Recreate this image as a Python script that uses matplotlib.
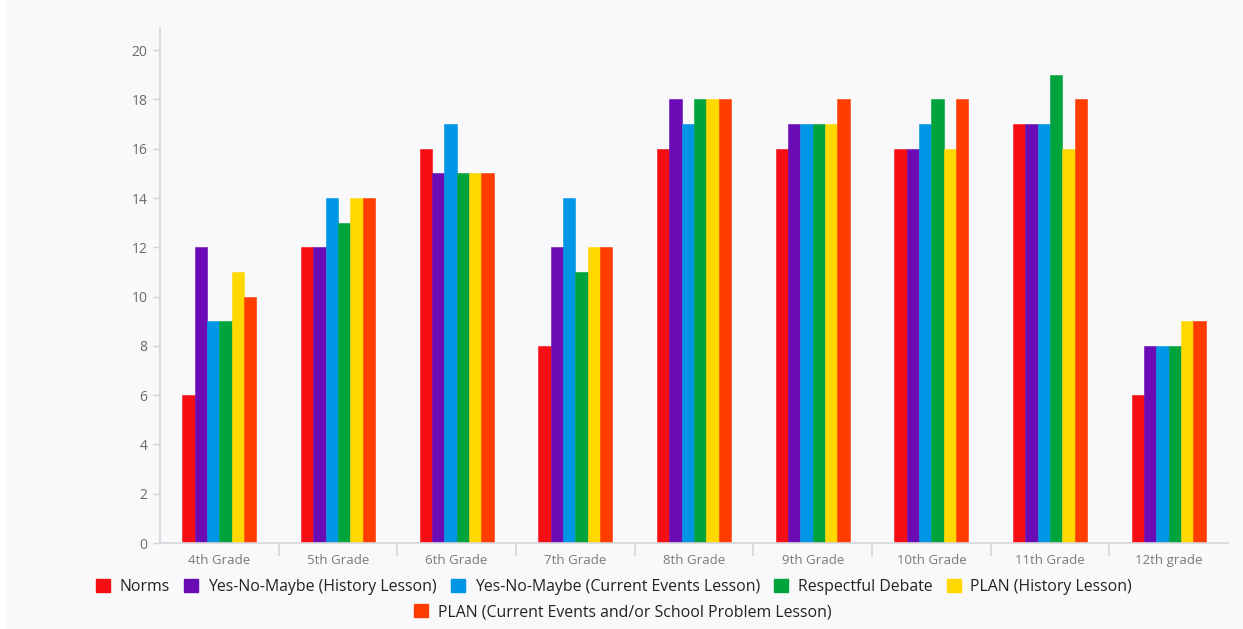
import matplotlib.pyplot as plt
import numpy as np
from matplotlib.patches import Rectangle, Patch

plt.rcParams['font.family'] = ['Open Sans', 'DejaVu Sans']

grades = ['4th Grade', '5th Grade', '6th Grade', '7th Grade', '8th Grade',
          '9th Grade', '10th Grade', '11th Grade', '12th grade']

norms = [6, 12, 16, 8, 16, 16, 16, 17, 6]
ynm_history = [12, 12, 15, 12, 18, 17, 16, 17, 8]
ynm_current = [9, 14, 17, 14, 17, 17, 17, 17, 8]
debate = [9, 13, 15, 11, 18, 17, 18, 19, 8]
plan_history = [11, 14, 15, 12, 18, 17, 16, 16, 9]
plan_current = [10, 14, 15, 12, 18, 18, 18, 18, 9]

series = [
    ('Norms', norms, '#f50f14'),
    ('Yes-No-Maybe (History Lesson)', ynm_history, '#6a0bb5'),
    ('Yes-No-Maybe (Current Events Lesson)', ynm_current, '#0096e6'),
    ('Respectful Debate', debate, '#00a33c'),
    ('PLAN (History Lesson)', plan_history, '#ffd800'),
    ('PLAN (Current Events and/or School Problem Lesson)', plan_current, '#ff3d00'),
]

bg = '#f9f9fb'
fig = plt.figure(figsize=(12.43, 6.29), dpi=100, facecolor=bg)
# thin white margin on the left edge
fig.patches.append(Rectangle((0, 0), 6 / 1243, 1, transform=fig.transFigure,
                             facecolor='white', edgecolor='none', zorder=0))
ax = fig.add_axes([0.1287, 0.1367, 0.8593, 0.8188])
ax.set_facecolor(bg)

x = np.arange(len(grades))
w = 0.104
for i, (name, vals, col) in enumerate(series):
    ax.bar(x + (i - 2.5) * w, vals, w, color=col, edgecolor=col, linewidth=0.4,
           label=name, zorder=2)

ax.set_xlim(-0.5, len(grades) - 0.5)
ax.set_ylim(0, 20.9)
ax.set_yticks(range(0, 21, 2))
ax.set_xticks(x)
ax.set_xticklabels(grades)
ax.set_xticks(np.arange(0.5, len(grades) - 1, 1), minor=True)

for s in ['top', 'right']:
    ax.spines[s].set_visible(False)
for s in ['left', 'bottom']:
    ax.spines[s].set_color('#d6d6da')
    ax.spines[s].set_linewidth(1.2)

ax.tick_params(axis='y', colors='#d0d0d4', labelcolor='#6b6b6b', labelsize=10,
               length=5, width=1, pad=4)
ax.tick_params(axis='x', which='major', length=0, labelcolor='#7a7a7a',
               labelsize=9.5, pad=8)
ax.tick_params(axis='x', which='minor', length=9, color='#d6d6da', width=1.2)

handles = [Patch(facecolor=c, edgecolor=c) for _, _, c in series]
labels = [n for n, _, _ in series]

leg_kw = dict(loc='center', frameon=False, fontsize=11.4, handlelength=0.9,
              handleheight=0.9, handletextpad=0.6, borderaxespad=0,
              labelcolor='#222222')
fig.legend(handles[:5], labels[:5], ncol=5, bbox_to_anchor=(0.494, 0.067),
           columnspacing=0.9, **leg_kw)
fig.legend(handles[5:], labels[5:], ncol=1, bbox_to_anchor=(0.501, 0.027),
           **leg_kw)

fig.savefig('out.png', dpi=100, facecolor=bg)
